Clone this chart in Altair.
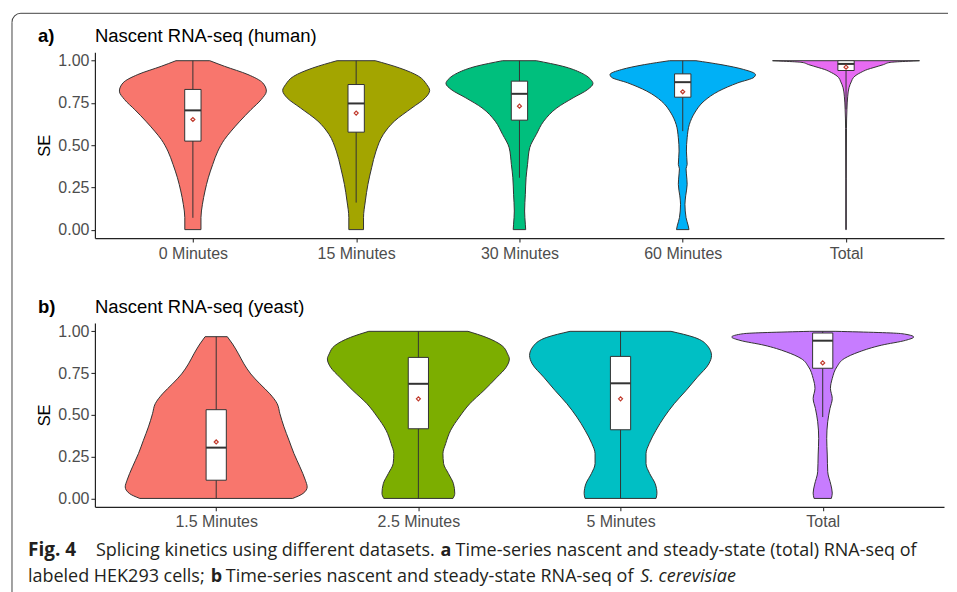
import altair as alt
import pandas as pd

# ---------------- Panel a: Nascent RNA-seq (human) ----------------
A_GROUPS = ["0 Minutes", "15 Minutes", "30 Minutes", "60 Minutes", "Total"]
A_COLORS = ["#F8766D", "#A3A500", "#00BF7D", "#00B0F6", "#E76BF3"]

# violin outlines: SE level and relative half-width (1 = widest point)
a0_se = [0.0, 0.071, 0.15, 0.229, 0.307, 0.386, 0.465, 0.534, 0.583, 0.642, 0.71, 0.77, 0.82, 0.869, 0.918, 0.967, 1.0]
a0_w = [0.11, 0.11, 0.13, 0.165, 0.21, 0.27, 0.34, 0.43, 0.52, 0.64, 0.79, 0.93, 1.0, 0.95, 0.75, 0.43, 0.23]
a15_se = [0.0, 0.071, 0.17, 0.268, 0.366, 0.465, 0.564, 0.642, 0.721, 0.78, 0.824, 0.859, 0.908, 0.957, 1.0]
a15_w = [0.1, 0.1, 0.125, 0.16, 0.21, 0.27, 0.37, 0.52, 0.76, 0.94, 1.0, 0.96, 0.85, 0.59, 0.26]
a30_se = [0.0, 0.032, 0.11, 0.209, 0.307, 0.386, 0.485, 0.564, 0.642, 0.721, 0.78, 0.83, 0.865, 0.889, 0.928, 0.967, 1.0]
a30_w = [0.085, 0.08, 0.07, 0.08, 0.09, 0.11, 0.14, 0.23, 0.33, 0.51, 0.73, 0.93, 1.0, 0.97, 0.84, 0.59, 0.23]
a60_se = [0.0, 0.022, 0.071, 0.15, 0.2, 0.268, 0.33, 0.36, 0.386, 0.465, 0.544, 0.623, 0.69, 0.761, 0.82, 0.869, 0.902, 0.918, 0.948, 0.977, 1.0]
a60_w = [0.085, 0.075, 0.045, 0.03, 0.04, 0.06, 0.05, 0.045, 0.06, 0.05, 0.06, 0.09, 0.16, 0.29, 0.49, 0.75, 0.97, 0.99, 0.83, 0.52, 0.18]
atot_se = [0.0, 0.3, 0.6, 0.71, 0.79, 0.84, 0.879, 0.9, 0.918, 0.93, 0.948, 0.96, 0.977, 0.99, 0.997, 1.0]
atot_w = [0.004, 0.004, 0.006, 0.012, 0.023, 0.04, 0.075, 0.1, 0.15, 0.2, 0.29, 0.38, 0.51, 0.6, 0.85, 1.0]

a_q1 = [0.524, 0.577, 0.648, 0.784, 0.942]
a_med = [0.706, 0.747, 0.804, 0.873, 0.981]
a_q3 = [0.83, 0.859, 0.879, 0.922, 1.0]
a_lo = [0.07, 0.16, 0.307, 0.583, 0.71]
a_hi = [1.0, 1.0, 1.0, 1.0, 1.0]
a_mean = [0.652, 0.69, 0.731, 0.816, 0.962]

# ---------------- Panel b: Nascent RNA-seq (yeast) ----------------
B_GROUPS = ["1.5 Minutes", "2.5 Minutes", "5 Minutes", "Total"]
B_COLORS = ["#F8766D", "#7CAE00", "#00BFC4", "#C77CFF"]

b15_se = [0.0, 0.03, 0.069, 0.109, 0.189, 0.268, 0.348, 0.428, 0.507, 0.567, 0.626, 0.686, 0.745, 0.805, 0.865, 0.924, 0.968]
b15_w = [0.84, 0.955, 1.0, 0.98, 0.92, 0.855, 0.8, 0.745, 0.70, 0.67, 0.59, 0.48, 0.38, 0.305, 0.245, 0.18, 0.122]
b25_se = [0.0, 0.03, 0.089, 0.149, 0.209, 0.268, 0.328, 0.408, 0.487, 0.567, 0.646, 0.726, 0.785, 0.835, 0.865, 0.914, 0.964, 1.0]
b25_w = [0.38, 0.40, 0.385, 0.33, 0.277, 0.27, 0.30, 0.355, 0.45, 0.565, 0.72, 0.865, 0.965, 1.0, 0.98, 0.92, 0.745, 0.545]
b5_se = [0.0, 0.03, 0.089, 0.149, 0.209, 0.268, 0.328, 0.408, 0.487, 0.567, 0.646, 0.726, 0.805, 0.855, 0.914, 0.964, 1.0]
b5_w = [0.39, 0.40, 0.38, 0.32, 0.28, 0.28, 0.315, 0.39, 0.48, 0.59, 0.72, 0.845, 0.97, 1.0, 0.955, 0.81, 0.555]
btot_se = [0.0, 0.032, 0.081, 0.16, 0.26, 0.359, 0.459, 0.538, 0.598, 0.658, 0.718, 0.787, 0.837, 0.877, 0.917, 0.946, 0.966, 0.986, 1.0]
btot_w = [0.095, 0.105, 0.09, 0.055, 0.05, 0.044, 0.055, 0.08, 0.105, 0.085, 0.105, 0.155, 0.237, 0.40, 0.645, 0.91, 1.0, 0.87, 0.145]

b_q1 = [0.109, 0.417, 0.411, 0.779]
b_med = [0.304, 0.686, 0.689, 0.944]
b_q3 = [0.531, 0.844, 0.850, 0.99]
b_lo = [0.0, 0.0, 0.0, 0.487]
b_hi = [0.968, 1.0, 1.0, 1.0]
b_mean = [0.338, 0.596, 0.596, 0.811]

Y_TICKS = [0, 0.25, 0.5, 0.75, 1.0]
TITLE_A = ("a)", "Nascent RNA-seq (human)")
TITLE_B = ("b)", "Nascent RNA-seq (yeast)")
# caption segments: text, weight, style, left x on the page
CAPTION_1 = [("Fig. 4", "bold", "normal", 27), ("Splicing kinetics using different datasets.", "normal", "normal", 95),
             ("a", "bold", "normal", 440), ("Time-series nascent and steady-state (total) RNA-seq of", "normal", "normal", 455)]
CAPTION_2 = [("labeled HEK293 cells;", "normal", "normal", 27), ("b", "bold", "normal", 210),
             ("Time-series nascent and steady-state RNA-seq of", "normal", "normal", 225),
             ("S. cerevisiae", "normal", "italic", 640)]

HALF = 0.45   # violin max half-width (category units)
BOXW = 0.05   # box half-width
AXFONT = "Liberation Sans"
CAPFONT = "Open Sans"
CAPSIZE = 18
PLOT_X0 = 94


def violin_df(groups, colors, profiles):
    rows = []
    for i, (g, c, (se, w)) in enumerate(zip(groups, colors, profiles)):
        for s, f in zip(se, w):
            rows.append(dict(grp=g, col=c, pos=i + 1, se=s, lo=i + 1 - HALF * f, hi=i + 1 + HALF * f))
    return pd.DataFrame(rows)


def stats_df(groups, q1, med, q3, lo, hi, mean):
    n = len(groups)
    return pd.DataFrame(dict(grp=groups, pos=list(range(1, n + 1)), q1=q1, med=med, q3=q3,
                             lo=lo, hi=hi, mean=mean,
                             bl=[i + 1 - BOXW for i in range(n)], br=[i + 1 + BOXW for i in range(n)]))


one = pd.DataFrame({"k": [0]})


def text_layer(txt, x, y, size, weight="normal", style="normal", font=AXFONT, color="black"):
    return alt.Chart(one).mark_text(text=txt, align="left", baseline="alphabetic", font=font,
                                    fontSize=size, fontWeight=weight, fontStyle=style, color=color
                                    ).encode(x=alt.value(x), y=alt.value(y))


def frame_layers():
    c = "#444444"
    top = alt.Chart(one).mark_rule(color=c, strokeWidth=1).encode(
        x=alt.value(-74), x2=alt.value(854), y=alt.value(-39))
    left = alt.Chart(one).mark_rule(color=c, strokeWidth=1).encode(
        x=alt.value(-83), y=alt.value(-30), y2=alt.value(548))
    corner = alt.Chart(one).mark_arc(radius=9.5, radius2=8.5, theta=4.712, theta2=6.2832,
                                     color=c).encode(x=alt.value(-74), y=alt.value(-30))
    return [top, left, corner]


def panel(groups, colors, profiles, stats, height, title, frame=False):
    n = len(groups)
    xs = alt.Scale(domain=[0.4, n + 0.6], nice=False, zero=False)
    ys = alt.Scale(domain=[-0.05, 1.05], nice=False, zero=False)
    label_expr = "[" + ",".join("'%s'" % g for g in groups) + "][datum.value - 1]"
    xaxis = alt.Axis(values=list(range(1, n + 1)), labelExpr=label_expr, title=None, grid=False,
                     tickSize=4, labelPadding=3)
    yaxis = alt.Axis(values=Y_TICKS, format=".2f", title="SE", grid=False, tickSize=4,
                     labelPadding=2, titlePadding=5)

    def X(f):
        return alt.X(f, type="quantitative", scale=xs, axis=xaxis)

    def Y(f):
        return alt.Y(f, type="quantitative", scale=ys, axis=yaxis)

    vdf = violin_df(groups, colors, profiles)
    bdf = stats_df(groups, *stats)
    violin = alt.Chart(vdf).mark_area(orient="horizontal", stroke="#333333", strokeWidth=1,
                                      interpolate="monotone").encode(
        y=Y("se"), x=X("lo"), x2="hi:Q",
        color=alt.Color("col:N", scale=None, legend=None),
        detail="grp:N")
    whisk = alt.Chart(bdf).mark_rule(color="#333333", strokeWidth=1).encode(x=X("pos"), y=Y("lo"), y2="hi:Q")
    box = alt.Chart(bdf).mark_rect(fill="white", stroke="#333333", strokeWidth=1).encode(
        x=X("bl"), x2="br:Q", y=Y("q1"), y2="q3:Q")
    med = alt.Chart(bdf).mark_rule(color="#333333", strokeWidth=2).encode(x=X("bl"), x2="br:Q", y=Y("med"))
    mean = alt.Chart(bdf).mark_point(shape="diamond", size=16, color="#C0392B", filled=False,
                                     strokeWidth=1.2, opacity=1).encode(x=X("pos"), y=Y("mean"))
    layers = [violin, whisk, box, med, mean,
              text_layer(title[0], -57, -10, 18.5, weight="bold"),
              text_layer(title[1], 0, -10, 18.5)]
    if frame:
        layers += frame_layers()
    return alt.layer(*layers).properties(width=850, height=height)


panel_a = panel(A_GROUPS, A_COLORS,
                [(a0_se, a0_w), (a15_se, a15_w), (a30_se, a30_w), (a60_se, a60_w), (atot_se, atot_w)],
                (a_q1, a_med, a_q3, a_lo, a_hi, a_mean), 186, TITLE_A, frame=True)
panel_b = panel(B_GROUPS, B_COLORS,
                [(b15_se, b15_w), (b25_se, b25_w), (b5_se, b5_w), (btot_se, btot_w)],
                (b_q1, b_med, b_q3, b_lo, b_hi, b_mean), 184, TITLE_B)

cap_layers = []
for line_y, segs in ((-36, CAPTION_1), (-10, CAPTION_2)):
    for txt, wt, st, x in segs:
        size = 19 if txt == "Fig. 4" else CAPSIZE
        cap_layers.append(text_layer(txt, x - PLOT_X0, line_y, size, weight=wt, style=st,
                                     font=CAPFONT, color="#231F20"))
caption = alt.layer(*cap_layers).properties(width=850, height=1)

chart = alt.vconcat(panel_a, panel_b, caption, spacing=85, bounds="flush").properties(
    padding={"left": 3, "top": 4, "right": 0, "bottom": 0}
).configure_view(strokeWidth=0).configure_axis(
    labelFont=AXFONT, labelFontSize=16, labelColor="#4D4D4D",
    titleFont=AXFONT, titleFontSize=16.5, titleColor="black", titleFontWeight="normal",
    domainColor="#222222", domainWidth=1.2, tickColor="#333333", tickWidth=1.1
)

chart.save("out.html", embed_options={"renderer": "svg", "actions": False})
